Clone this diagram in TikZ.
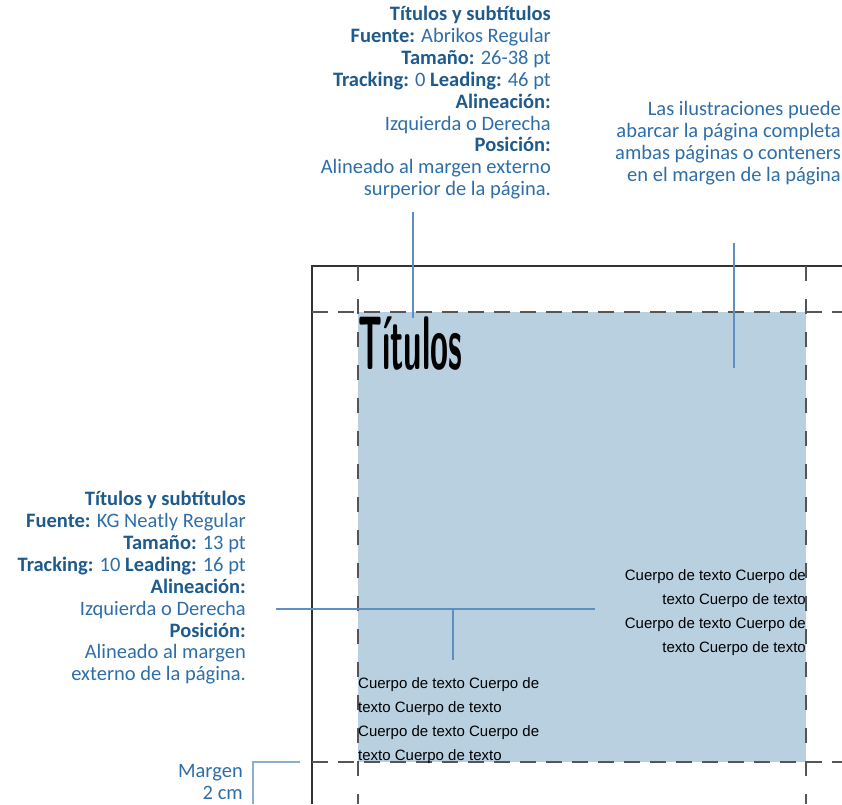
\documentclass[tikz,border=0pt]{standalone}
\usepackage{fontspec}
\setmainfont{Carlito}
\newfontfamily\bodyfont{Liberation Sans}
\usetikzlibrary{positioning}
\definecolor{fillblue}{RGB}{185,208,225}
\definecolor{callblue}{RGB}{93,143,192}
\definecolor{marginblue}{RGB}{138,174,205}
\definecolor{boldblue}{RGB}{31,90,140}
\definecolor{textblue}{RGB}{46,110,168}
\definecolor{dashgray}{RGB}{85,85,85}
\newcommand{\hd}[1]{\textbf{\color{boldblue}#1}}

\begin{document}
\begin{tikzpicture}[line cap=butt,line join=miter,x=1pt,y=-1pt,
    callout/.style={draw=callblue, line width=1.5pt},
    hguide/.style={draw=dashgray, line width=1.8pt, dash pattern=on 16pt off 10pt},
    vguide/.style={draw=dashgray, line width=1.8pt, dash pattern=on 15pt off 18pt},
    note/.style={inner sep=0pt, align=right, text=textblue, font=\fontsize{20.5}{21.9}\selectfont},
    body/.style={inner sep=0pt, font=\bodyfont\fontsize{15}{24}\selectfont}]
    \useasboundingbox (0,0) rectangle (842,804);
    \clip (0,0) rectangle (842,804);

    % illustration area
    \fill[fillblue] (358,312) rectangle (806,762);

    % page edge and margins
    \draw[black!80, line width=1.5pt] (312,804) -- (312,266) -- (842,266);
    \draw[hguide] (312,312) -- (842,312);
    \draw[hguide] (312,762) -- (842,762);
    \draw[vguide] (358,266) -- (358,804);
    \draw[vguide] (806,266) -- (806,804);

    % texts on the page
    \node[inner sep=0pt, anchor=north west, font=\sffamily\bfseries\fontsize{76}{76}\selectfont] (titulos) at (358,317) {\scalebox{0.43}[1]{Títulos}};
    \node[body, align=right, anchor=north east] (cuerpoR) at (806,569) {Cuerpo de texto Cuerpo de\\texto Cuerpo de texto\\Cuerpo de texto Cuerpo de\\texto Cuerpo de texto};
    \node[body, align=left, anchor=north west] (cuerpoL) at (358,677) {Cuerpo de texto Cuerpo de\\texto Cuerpo de texto\\Cuerpo de texto Cuerpo de\\texto Cuerpo de texto};

    % notes
    \node[note, anchor=north east] (notaTit) at (551,6) {\hd{Títulos y subtítulos}\\\hd{Fuente:} Abrikos Regular\\\hd{Tamaño:} 26-38 pt\\\hd{Tracking:} 0 \hd{Leading:} 46 pt\\\hd{Alineación:}\\Izquierda o Derecha\\\hd{Posición:}\\Alineado al margen externo\\surperior de la página.};
    \node[note, anchor=north east] (notaIlu) at (841,101) {Las ilustraciones puede\\abarcar la página completa\\ambas páginas o conteners\\en el margen de la página};
    \node[note, anchor=north east] (notaCue) at (246,491) {\hd{Títulos y subtítulos}\\\hd{Fuente:} KG Neatly Regular\\\hd{Tamaño:} 13 pt\\\hd{Tracking:} 10 \hd{Leading:} 16 pt\\\hd{Alineación:}\\Izquierda o Derecha\\\hd{Posición:}\\Alineado al margen\\externo de la página.};
    \node[note, anchor=north east] (notaMar) at (243,764) {Margen\\2 cm};

    % connectors
    \coordinate (titA) at (413,212);
    \coordinate (titB) at (413,318);
    \coordinate (iluA) at (734,243);
    \coordinate (iluB) at (734,368);
    \coordinate (cueA) at (276,609);
    \coordinate (cueB) at (595,609);
    \coordinate (cueC) at (453,609);
    \coordinate (cueD) at (453,660);
    \coordinate (marA) at (300,762);
    \coordinate (marB) at (253,762);
    \coordinate (marC) at (253,804);
    \draw[callout] (titA) -- (titB);
    \draw[callout] (iluA) -- (iluB);
    \draw[callout] (cueA) -- (cueB);
    \draw[callout] (cueC) -- (cueD);
    \draw[callout, draw=marginblue] (marA) -- (marB) -- (marC);
\end{tikzpicture}
\end{document}
